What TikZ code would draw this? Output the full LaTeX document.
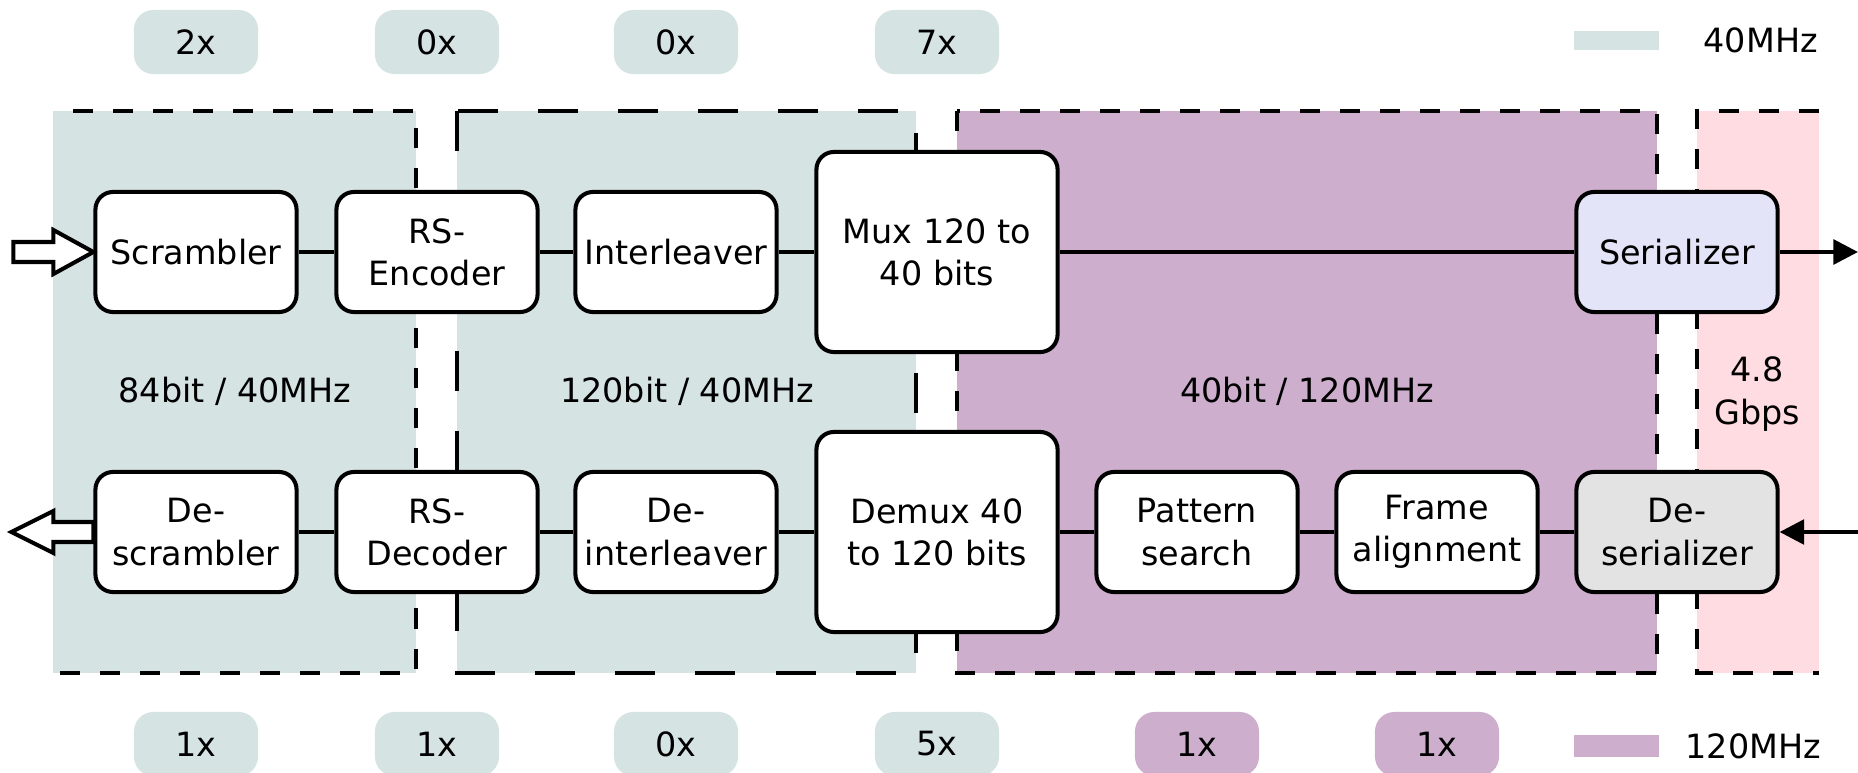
\documentclass[tikz,border=0pt]{standalone}
\usepackage{fontspec}
\setmainfont{DejaVu Sans}
\usetikzlibrary{arrows.meta}
\definecolor{slow}{HTML}{D5E4E3}
\definecolor{fast}{HTML}{CDAECD}
\definecolor{serial}{HTML}{FFDCE2}
\definecolor{serfill}{HTML}{E4E4F8}
\definecolor{desfill}{HTML}{E3E3E3}

\begin{document}
\begin{tikzpicture}[x=0.01cm,y=-0.01cm,
	every node/.style={font=\fontsize{9.5}{12}\selectfont},
	blk/.style={draw,line width=1.15pt,rounded corners=5pt,fill=white,align=center,
		minimum width=2.01cm,minimum height=1.2cm,inner sep=1pt},
	bigblk/.style={blk,minimum width=2.41cm,minimum height=2cm},
	badge/.style={rounded corners=5.5pt,minimum width=1.24cm,minimum height=0.64cm},
	border/.style={line width=1.3pt,dash pattern=on 0.2cm off 0.2cm},
	wire/.style={line width=1.15pt},
	fat/.style={draw,fill=white,line width=1.15pt}]

	\useasboundingbox (0,0) rectangle (1858,773);

	% clock domains
	\fill[slow] (53,111) rectangle (416,673);
	\fill[slow] (457,111) rectangle (916,673);
	\fill[fast] (957,111) rectangle (1657,673);
	\fill[serial] (1697,111) rectangle (1819,673);

	\draw[border,dash phase=0.2cm] (53,111) -- (416,111) -- (416,673) -- (53,673);
	\draw[border,dash pattern=on 0.4cm off 0.4cm] (457,111) rectangle (916,673);
	\draw[border] (957,111) rectangle (1657,673);
	\draw[border] (1819,111) -- (1697,111) -- (1697,673) -- (1819,673);

	\node (l1) at (235,391) {84bit / 40MHz};
	\node (l2) at (687,391) {120bit / 40MHz};
	\node (l3) at (1307,391) {40bit / 120MHz};
	\node[align=center] (l4) at (1757,394) {4.8\\Gbps};

	% transmitter
	\node[blk] (scr) at (196,252) {Scrambler};
	\node[blk] (rse) at (437,252) {RS-\\Encoder};
	\node[blk] (int) at (676,252) {Interleaver};
	\node[bigblk] (mux) at (937,252) {Mux 120 to\\40 bits};
	\node[blk,fill=serfill] (ser) at (1677,252) {Serializer};

	% receiver
	\node[blk] (dscr) at (196,532) {De-\\scrambler};
	\node[blk] (rsd) at (437,532) {RS-\\Decoder};
	\node[blk] (dint) at (676,532) {De-\\interleaver};
	\node[bigblk] (dmux) at (937,532) {Demux 40\\to 120 bits};
	\node[blk] (pat) at (1197,532) {Pattern\\search};
	\node[blk] (frm) at (1437,532) {Frame\\alignment};
	\node[blk,fill=desfill] (des) at (1677,532) {De-\\serializer};

	\coordinate (txout) at (1858,252);
	\coordinate (rxin) at (1858,532);

	\draw[wire] (scr) -- (rse);
	\draw[wire] (rse) -- (int);
	\draw[wire] (int) -- (mux);
	\draw[wire] (mux) -- (ser);
	\draw[wire,-{Triangle[length=7pt,width=7pt]}] (ser) -- (txout);

	\draw[wire,-{Triangle[length=7pt,width=7pt]}] (rxin) -- (des);
	\draw[wire] (des) -- (frm);
	\draw[wire] (frm) -- (pat);
	\draw[wire] (pat) -- (dmux);
	\draw[wire] (dmux) -- (dint);
	\draw[wire] (dint) -- (rsd);
	\draw[wire] (rsd) -- (dscr);

	\draw[fat] (scr.west) -- ++(-40,-22) -- ++(0,12) -- ++(-40,0) -- ++(0,20)
		-- ++(40,0) -- ++(0,12) -- cycle;
	\draw[fat] (dscr.west) ++(0,-10) -- ++(-40,0) -- ++(0,-11) -- ++(-42,21)
		-- ++(42,21) -- ++(0,-11) -- ++(40,0) -- cycle;

	% occupancy
	\node[badge,fill=slow] (t1) at (196,42) {2x};
	\node[badge,fill=slow] (t2) at (437,42) {0x};
	\node[badge,fill=slow] (t3) at (676,42) {0x};
	\node[badge,fill=slow] (t4) at (937,42) {7x};

	\node[badge,fill=slow] (r1) at (196,744) {1x};
	\node[badge,fill=slow] (r2) at (437,744) {1x};
	\node[badge,fill=slow] (r3) at (676,744) {0x};
	\node[badge,fill=slow] (r4) at (937,744) {5x};
	\node[badge,fill=fast] (r5) at (1197,744) {1x};
	\node[badge,fill=fast] (r6) at (1437,744) {1x};

	% legend
	\fill[slow] (1574,31) rectangle (1659,50);
	\node[anchor=west,inner sep=0pt] (k1) at (1703,40) {40MHz};
	\fill[fast] (1574,735) rectangle (1659,757);
	\node[anchor=west,inner sep=0pt] (k2) at (1685,746) {120MHz};

\end{tikzpicture}
\end{document}
